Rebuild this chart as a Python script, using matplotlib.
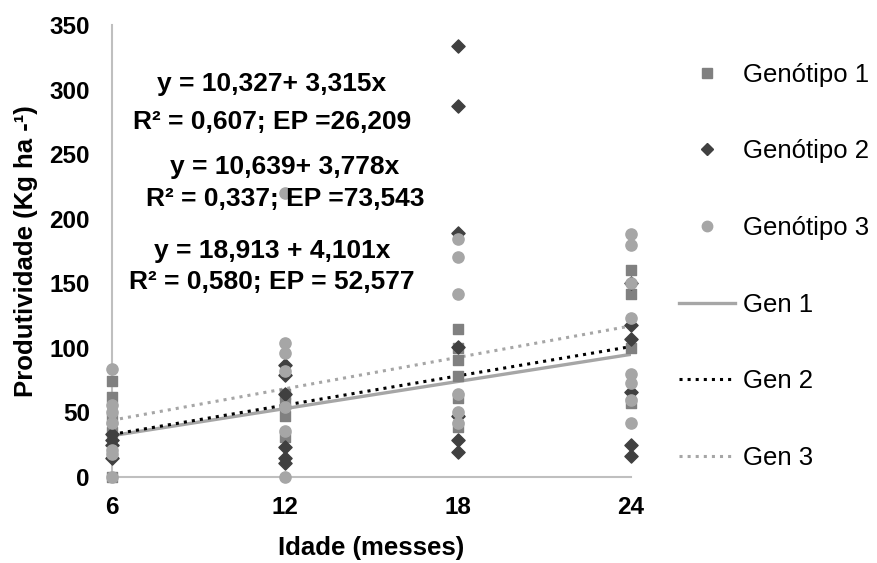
import matplotlib
matplotlib.use("Agg")
import matplotlib.pyplot as plt
from matplotlib.lines import Line2D

plt.rcParams['font.family'] = ['Liberation Sans', 'DejaVu Sans']

# idade (meses) e produtividade observada por genótipo
gen1_x = [6, 6, 6, 6, 6, 12, 12, 12, 12, 18, 18, 18, 18, 18, 18, 24, 24, 24, 24]
gen1_y = [74, 62, 45, 35, 0, 64, 57, 47, 31, 115, 100, 91, 78, 61, 39, 160, 142, 100, 57]

gen2_x = [6, 6, 6, 6, 12, 12, 12, 12, 12, 12, 18, 18, 18, 18, 18, 18, 18, 24, 24, 24, 24, 24, 24]
gen2_y = [33, 29, 25, 15, 87, 79, 64, 23, 15, 11, 334, 287, 189, 101, 47, 29, 19, 150, 118, 107, 66, 25, 16]

gen3_x = [6, 6, 6, 6, 6, 6, 6, 12, 12, 12, 12, 12, 12, 12, 18, 18, 18, 18, 18, 18,
          24, 24, 24, 24, 24, 24, 24, 24]
gen3_y = [84, 56, 50, 42, 21, 18, 0, 220, 104, 96, 82, 54, 36, 0, 184, 170, 142, 64, 50, 42,
          188, 180, 150, 123, 80, 73, 60, 42]

# linhas de tendência (valores nas idades 6 e 24)
trend_x = [6, 24]
gen1_trend = [32, 95]
gen2_trend = [33, 101]
gen3_trend = [44, 117]

equations = [
    ("y = 10,327+ 3,315x", 11.55, 304),
    ("R² = 0,607; EP =26,209", 11.55, 275),
    ("y = 10,639+ 3,778x", 12.0, 240),
    ("R² = 0,337; EP =73,543", 12.0, 215),
    ("y = 18,913 + 4,101x", 11.55, 175),
    ("R² = 0,580; EP = 52,577", 11.55, 151),
]

c1, c2, c3 = '#808080', '#404040', '#a6a6a6'

fig = plt.figure(figsize=(8.77, 5.63), dpi=100)
ax = fig.add_axes([0.1277, 0.1527, 0.5918, 0.8029])

ax.plot(trend_x, gen1_trend, color=c3, lw=2.4, solid_capstyle='butt', zorder=2)
ax.plot(trend_x, gen2_trend, color='black', lw=2.2, ls=':', zorder=2)
ax.plot(trend_x, gen3_trend, color=c3, lw=2.2, ls=':', zorder=2)

ax.scatter(gen1_x, gen1_y, marker='s', s=55, color=c1, zorder=3, clip_on=False)
ax.scatter(gen2_x, gen2_y, marker='D', s=45, color=c2, zorder=3, clip_on=False)
ax.scatter(gen3_x, gen3_y, marker='o', s=65, color=c3, zorder=3, clip_on=False)

for txt, xx, yy in equations:
    ax.text(xx, yy, txt, ha='center', va='center', fontsize=19, fontweight='bold', zorder=5)

ax.set_xlim(6, 24)
ax.set_ylim(0, 350)
ax.set_xticks([6, 12, 18, 24])
ax.set_yticks(range(0, 351, 50))
ax.tick_params(length=0, labelsize=17.5)
ax.tick_params(axis='y', pad=16)
ax.tick_params(axis='x', pad=14)
for lab in ax.get_xticklabels() + ax.get_yticklabels():
    lab.set_fontweight('bold')
for s in ['top', 'right']:
    ax.spines[s].set_visible(False)
for s in ['left', 'bottom']:
    ax.spines[s].set_color('#bfbfbf')
    ax.spines[s].set_linewidth(1.5)

ax.set_xlabel('Idade (messes)', fontsize=18.5, fontweight='bold', labelpad=12)
ax.set_ylabel('Produtividade (Kg ha -¹)', fontsize=18.5, fontweight='bold', labelpad=8)

handles = [
    Line2D([], [], ls='', marker='s', ms=7.5, color=c1),
    Line2D([], [], ls='', marker='D', ms=6.5, color=c2),
    Line2D([], [], ls='', marker='o', ms=7.5, color=c3),
    Line2D([], [], color=c3, lw=2.4),
    Line2D([], [], color='black', lw=2.2, ls=':'),
    Line2D([], [], color=c3, lw=2.2, ls=':'),
]
labels = ['Genótipo 1', 'Genótipo 2', 'Genótipo 3', 'Gen 1', 'Gen 2', 'Gen 3']
fig.legend(handles, labels, loc='center left', bbox_to_anchor=(0.762, 0.527),
           frameon=False, fontsize=18.5, handlelength=2.2, handletextpad=0.3,
           labelspacing=2.05, borderaxespad=0)

fig.savefig('out.png', dpi=100)
